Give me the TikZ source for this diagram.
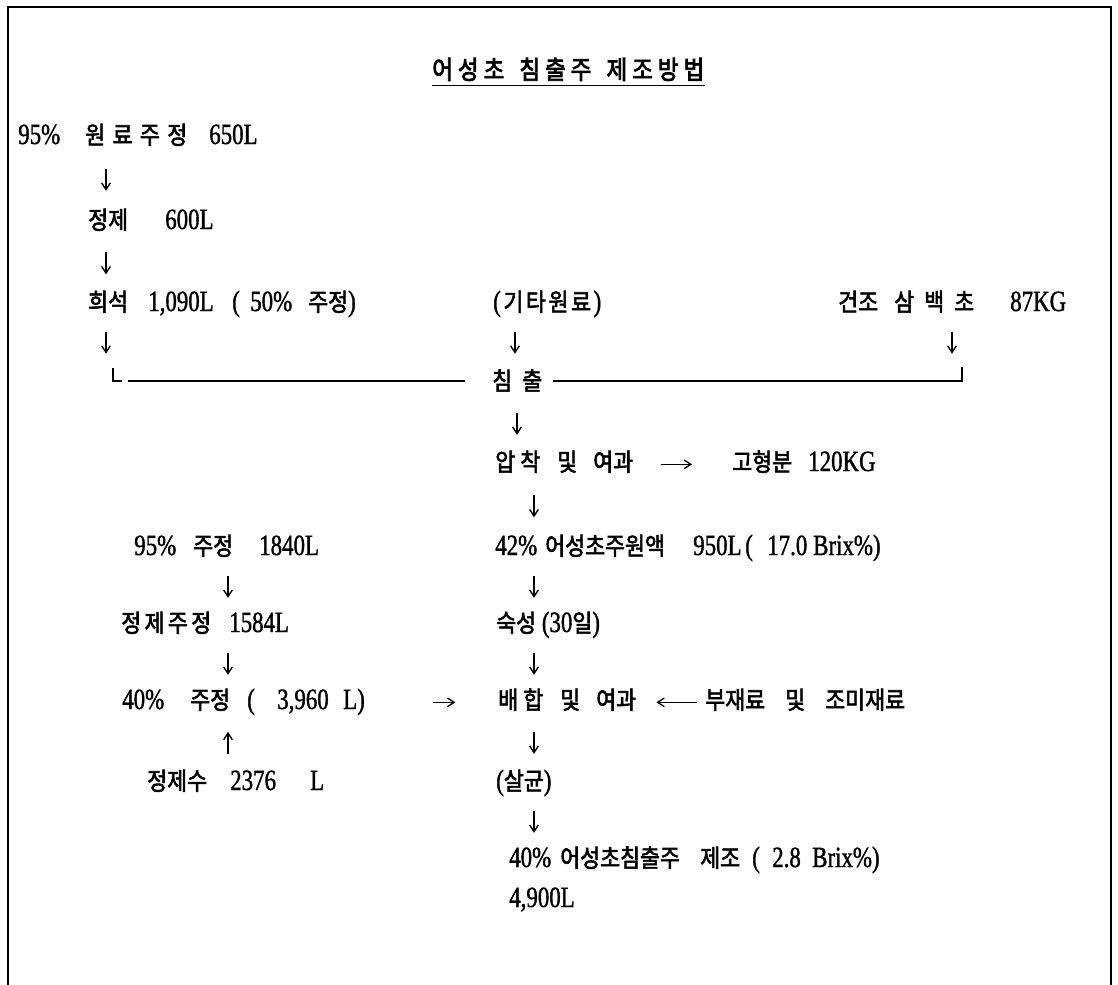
\documentclass[tikz,border=0pt]{standalone}
\usepackage{fontspec}
\usepackage{graphicx}
\setmainfont{Liberation Serif}[FakeStretch=0.78,FakeBold=1.2]
\newfontfamily\krf{Noto Sans CJK KR}[Scale=0.84,FakeStretch=0.88,FakeBold=2.4]
\newfontfamily\krt{Noto Sans CJK KR}[Scale=0.87,FakeStretch=0.88,FakeBold=3.2]
\usetikzlibrary{calc,arrows.meta}
\newdimen\pxu \pxu=0.75pt
\newcommand\K[1]{{\krf #1}}
\newcommand\pc[2]{\makebox[#1\pxu][l]{#2}}
\newcommand\lsp[2]{\makebox[#1\pxu][s]{#2}}
\newcommand\vdn[3]{\draw[arr] ($(#1 -| #3)!.5!(#2 -| #3)+(0,-11)$) -- ($(#1 -| #3)!.5!(#2 -| #3)+(0,11)$);}
\newcommand\vup[3]{\draw[arr] ($(#1 -| #3)!.5!(#2 -| #3)+(0,11)$) -- ($(#1 -| #3)!.5!(#2 -| #3)+(0,-11)$);}
\begin{document}
\begin{tikzpicture}[x=0.75pt,y=-0.75pt,
  txt/.style={anchor=base west,inner sep=0pt,text height=13pt,text depth=3pt,font=\fontsize{22}{26}\selectfont},
  arr/.style={-{Straight Barb[length=5pt,width=6.5pt]},line width=1pt},
  ruleline/.style={line width=1.1pt},
  frameline/.style={line width=1.3pt}]
\useasboundingbox (0,0) rectangle (1118,985);
\fill[white] (0,0) rectangle (1118,985);
% frame
\coordinate (f1) at (8,985);
\coordinate (f2) at (8,7);
\coordinate (f3) at (1111,7);
\coordinate (f4) at (1111,985);
\draw[frameline] (f1) -- (f2) -- (f3) -- (f4);
% title
\node[txt] (title) at (432,79) {\krt\lsp{272}{어\hfill 성\hfill 초\hfill\hfill\hfill 침\hfill 출\hfill 주\hfill\hfill\hfill 제\hfill 조\hfill 방\hfill 법}};
\draw[line width=1pt] ([yshift=-5pt]title.base west) -- ([yshift=-5pt]title.base east);
% left top column
\node[txt] (n0) at (18,144) {\pc{67}{95\%}\lsp{102}{\krf 원\hfill 료\hfill 주\hfill 정}\hspace{22\pxu}650L};
\node[txt] (n2) at (88,229) {\pc{77}{\K{정제}}600L};
\node[txt] (n4a) at (88,311) {\pc{60}{\K{희석}}\pc{84}{1,090L}\pc{18}{(}\pc{58}{50\%}\K{주정})};
\node[txt] (n4b) at (493,311) {\lsp{108}{(\hfill{\krf 기\hfill 타\hfill 원\hfill 료}\hfill)}};
\node[txt] (n4c) at (838,311) {\pc{56}{\K{건조}}\lsp{80}{\krf 삼\hfill 백\hfill 초}\hspace{36\pxu}87KG};
% bracket
\node[txt] (chim) at (492,390) {\lsp{50}{\krf 침\hfill 출}};
\coordinate (tkL) at (113,368);
\coordinate (ftL) at (122,381);
\coordinate (bL) at (128,381);
\coordinate (bR) at (962,381);
\coordinate (tkR) at (962,367);
\draw[ruleline] (tkL) |- (ftL);
\draw[ruleline,shorten >=20pt] (bL) -- (chim.west |- bL);
\draw[ruleline,shorten <=7.5pt] (chim.east |- bR) -- (bR) -- (tkR);
% centre column
\node[txt] (n8a) at (495,471) {\pc{62}{\lsp{45}{\krf 압\hfill 착}}\pc{36}{\K{및}}\K{여과}};
\node[txt] (n8b) at (732,471) {\pc{76}{\K{고형분}}120KG};
\node[txt] (n10b) at (495,555) {\pc{50}{42\%}\pc{148}{\K{어성초주원액}}\pc{52}{950L}\pc{22}{(}\pc{46}{17.0}Brix\%)};
\node[txt] (n12b) at (496,632) {\K{숙성} (30\K{일})};
\node[txt] (n14b) at (498,709) {\pc{62}{\lsp{45}{\krf 배\hfill 합}}\pc{36}{\K{및}}\K{여과}};
\node[txt] (n14c) at (705,709) {\pc{80}{\K{부재료}}\pc{40}{\K{및}}\K{조미재료}};
\node[txt] (n16b) at (496,790) {(\K{살균})};
\node[txt] (n18) at (509,867) {\pc{51}{40\%}\pc{140}{\K{어성초침출주}}\pc{52}{\K{제조}}\pc{20}{(}\pc{40}{2.8}Brix\%)};
\node[txt] (n19) at (509,907) {4,900L};
% left lower column
\node[txt] (n10a) at (134,555) {\pc{59}{95\%}\pc{66}{\K{주정}}1840L};
\node[txt] (n12a) at (121,632) {\lsp{90}{\krf 정\hfill 제\hfill 주\hfill 정}\hspace{18\pxu}1584L};
\node[txt] (n14a) at (122,709) {\pc{68}{40\%}\pc{57}{\K{주정}}\pc{30}{(}\pc{66}{3,960}L)};
\node[txt] (n16a) at (147,790) {\pc{83}{\K{정제수}}\pc{80}{2376}L};
% arrow columns
\coordinate (cA) at (106,0);
\coordinate (cB) at (228,0);
\coordinate (cC) at (515,0);
\coordinate (cD) at (517,0);
\coordinate (cE) at (534,0);
\coordinate (cF) at (952,0);
\vdn{n0}{n2}{cA}
\vdn{n2}{n4a}{cA}
\vdn{n4a}{bL}{cA}
\vdn{n4b}{bL}{cC}
\vdn{n4c}{bR}{cF}
\vdn{chim}{n8a}{cD}
\vdn{n8a}{n10b}{cE}
\vdn{n10b}{n12b}{cE}
\vdn{n12b}{n14b}{cE}
\vdn{n14b}{n16b}{cE}
\vdn{n16b}{n18}{cE}
\vdn{n10a}{n12a}{cB}
\vdn{n12a}{n14a}{cB}
\vup{n16a}{n14a}{cB}
% horizontal arrows
\draw[arr,shorten <=21pt,shorten >=30pt] (n8a.east) -- (n8b.west);
\draw[arr,shorten <=51pt,shorten >=32pt] (n14a.east) -- (n14b.west);
\draw[arr,shorten <=6pt,shorten >=15pt] (n14c.west) -- (n14b.east);
\end{tikzpicture}
\end{document}
